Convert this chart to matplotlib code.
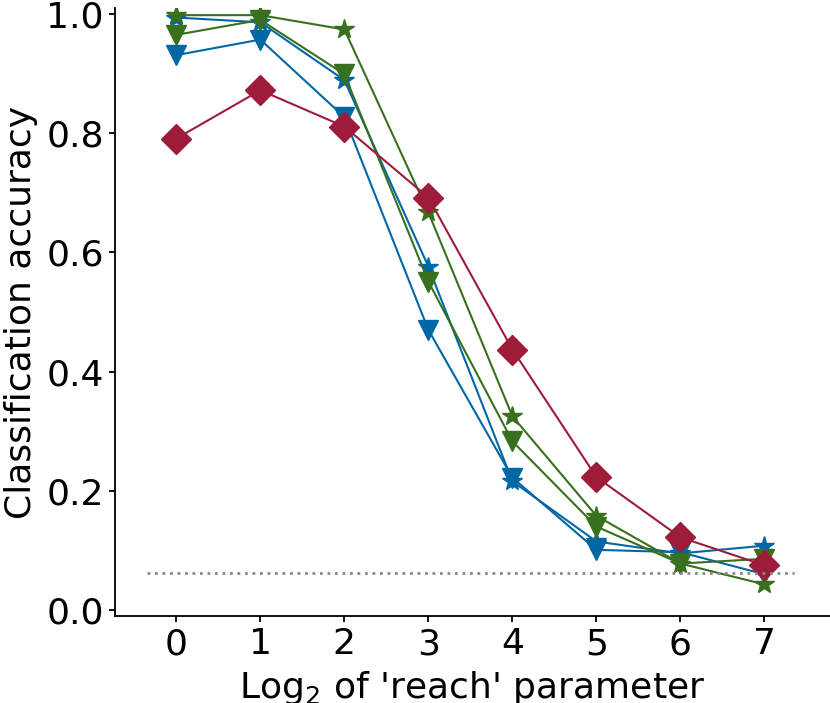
import numpy as np
import matplotlib
matplotlib.use("Agg")
import matplotlib.pyplot as plt

## values
log2_reach = [0, 1, 2, 3, 4, 5, 6, 7]
red_diamond = [0.791, 0.872, 0.811, 0.692, 0.437, 0.223, 0.122, 0.075]
blue_star = [0.994, 0.986, 0.889, 0.576, 0.216, 0.115, 0.095, 0.108]
blue_tri = [0.931, 0.957, 0.827, 0.470, 0.222, 0.101, 0.097, 0.060]
green_star = [0.998, 0.998, 0.974, 0.667, 0.325, 0.158, 0.078, 0.043]
green_tri = [0.965, 0.990, 0.899, 0.551, 0.283, 0.140, 0.078, 0.086]
chance = 1 / 16

red = "#9e1b3a"
blue = "#0067a5"
green = "#38701e"

plt.rcParams['font.family'] = ['DejaVu Sans']
plt.rcParams['font.size'] = 26

f = plt.figure(figsize=(8.3, 7.03), dpi=100)
ax = f.add_axes([115/830, 87/703, 1 - 115/830, (616 - 8)/703])

ms = 15
lw = 1.5
ax.plot(log2_reach, blue_tri, color=blue, marker='v', ms=ms, lw=lw)
ax.plot(log2_reach, blue_star, color=blue, marker='*', ms=ms, lw=lw)
ax.plot(log2_reach, green_tri, color=green, marker='v', ms=ms, lw=lw)
ax.plot(log2_reach, green_star, color=green, marker='*', ms=ms, lw=lw)
ax.plot(log2_reach, red_diamond, color=red, marker='D', ms=ms, lw=lw)

## chance level (1 of 16)
ax.hlines(chance, -0.35, 7.35, colors='#888888', linestyles=(0, (1, 1.7)), lw=2)

ax.set_xlim(-0.73, 7.78)
ax.set_ylim(-0.01, 1.01)
ax.set_xticks(log2_reach)
ax.set_yticks([0.0, 0.2, 0.4, 0.6, 0.8, 1.0])
ax.set_yticklabels(["0.0", "0.2", "0.4", "0.6", "0.8", "1.0"])
ax.spines['top'].set_visible(False)
ax.spines['right'].set_visible(False)
for s in ['left', 'bottom']:
    ax.spines[s].set_linewidth(1.3)
ax.tick_params(width=1.3, length=4.5)

ax.set_xlabel("Log$_2$ of 'reach' parameter", labelpad=6)
ax.set_ylabel("Classification accuracy", labelpad=6)

f.savefig("out.png", dpi=100)
